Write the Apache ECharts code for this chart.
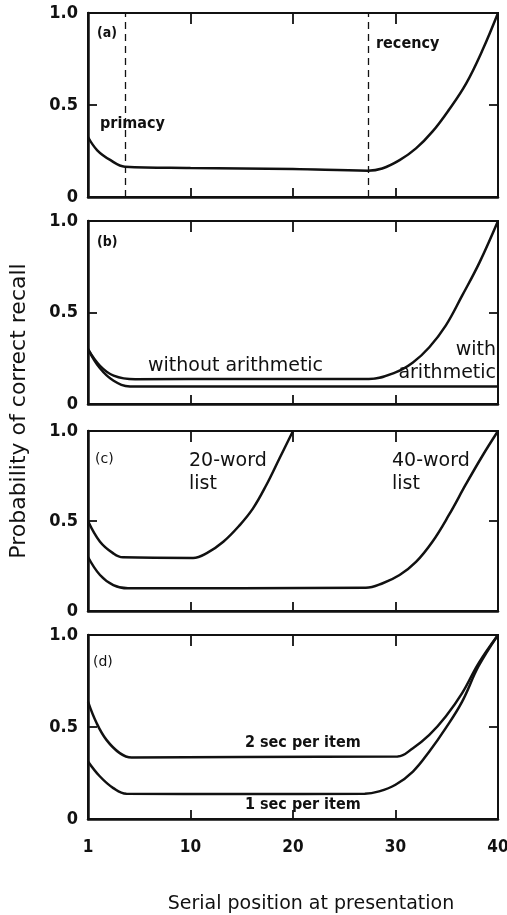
<!DOCTYPE html>
<html>
<head>
<meta charset="utf-8">
<script src="https://cdn.jsdelivr.net/npm/echarts@6/dist/echarts.min.js"></script>
<style>
html,body{margin:0;padding:0;background:#fff;}
#chart{width:507px;height:915px;}
</style>
</head>
<body>
<div id="chart"></div>
<script>
// ---- tick labels ----
var xTickLabels = ['1', '10', '20', '30', '40'];
var yTickLabels = ['0', '0.5', '1.0'];

// ---- panel (a): serial position curve ----
var aX = [0, 0.9, 2.2, 3.6, 10, 20, 27.3, 28.7, 30.4, 32.0, 33.6, 35.2, 36.9, 38.5, 40];
var aY = [0.326, 0.254, 0.20, 0.165, 0.158, 0.152, 0.143, 0.155, 0.20, 0.264, 0.355, 0.473, 0.618, 0.80, 1.0];
var aDashX = [3.6, 27.3];

// ---- panel (b): without / with arithmetic ----
var bWithoutX = [0, 1.17, 2.5, 4.6, 15, 27.4, 30.0, 31.7, 33.3, 34.9, 36.5, 38.2, 40];
var bWithoutY = [0.30, 0.209, 0.155, 0.135, 0.137, 0.137, 0.173, 0.227, 0.31, 0.428, 0.592, 0.774, 1.0];
var bWithX = [0, 1.17, 2.5, 4.1, 20, 40];
var bWithY = [0.30, 0.195, 0.127, 0.096, 0.096, 0.096];

// ---- panel (c): 20-word / 40-word list ----
var c20X = [0, 1.17, 2.47, 3.4, 10.25, 11.55, 13.2, 14.8, 16.1, 17.4, 18.7, 20];
var c20Y = [0.50, 0.385, 0.32, 0.298, 0.295, 0.32, 0.385, 0.477, 0.57, 0.70, 0.85, 1.0];
var c40X = [0, 1.17, 2.47, 3.9, 15, 27.1, 28.7, 30.4, 32.0, 33.6, 35.2, 36.9, 38.5, 40];
var c40Y = [0.30, 0.20, 0.144, 0.126, 0.127, 0.129, 0.153, 0.20, 0.273, 0.385, 0.532, 0.707, 0.864, 1.0];

// ---- panel (d): 2 sec / 1 sec per item ----
var d2X = [0, 0.85, 1.8, 3.1, 4.25, 15, 30.2, 31.7, 33.3, 34.9, 36.5, 38.1, 40];
var d2Y = [0.638, 0.52, 0.43, 0.358, 0.334, 0.337, 0.34, 0.385, 0.457, 0.557, 0.684, 0.846, 1.0];
var d1X = [0, 1.17, 2.47, 3.75, 15, 27, 28.4, 30.0, 31.7, 33.3, 34.9, 36.5, 38.1, 40];
var d1Y = [0.313, 0.231, 0.168, 0.137, 0.136, 0.137, 0.15, 0.186, 0.258, 0.367, 0.494, 0.638, 0.83, 1.0];

function zip(xs, ys) { return xs.map(function (x, i) { return [x, ys[i]]; }); }

var INK = '#111';
var tickFont = 'DejaVu Sans Condensed, DejaVu Sans, sans-serif';
var humanFont = 'DejaVu Sans, sans-serif';

var gridDefs = [
  { top: 13, height: 184 },
  { top: 221, height: 183 },
  { top: 431, height: 180 },
  { top: 635, height: 184 }
];

var grids = [], xAxes = [], yAxes = [];
gridDefs.forEach(function (g, i) {
  grids.push({ left: 88, right: 9, top: g.top, height: g.height, show: true,
    borderColor: INK, borderWidth: 2, backgroundColor: 'transparent',
    containLabel: false, outerBoundsMode: 'none' });
  var last = (i === gridDefs.length - 1);
  xAxes.push({
    type: 'value', gridIndex: i, min: 0, max: 40, interval: 10, position: 'bottom',
    axisLine: { show: true, onZero: false, lineStyle: { color: INK, width: 2.5 } },
    axisTick: { show: true, inside: true, length: 9, lineStyle: { color: INK, width: 1.8 } },
    splitLine: { show: false },
    axisLabel: { show: last, margin: 20, color: INK, fontFamily: tickFont, fontWeight: 'bold', fontSize: 17,
      showMinLabel: true, showMaxLabel: true,
      formatter: function (v) { return xTickLabels[Math.round(v / 10)]; } }
  });
  xAxes.push({
    type: 'value', gridIndex: i, min: 0, max: 40, interval: 10, position: 'top',
    axisLine: { show: false, onZero: false },
    axisTick: { show: true, inside: true, length: 11, lineStyle: { color: INK, width: 1.8 } },
    splitLine: { show: false }, axisLabel: { show: false }
  });
  yAxes.push({
    type: 'value', gridIndex: i, min: 0, max: 1, interval: 0.5, position: 'left',
    axisLine: { show: true, onZero: false, lineStyle: { color: INK, width: 2.5 } },
    axisTick: { show: true, inside: true, length: 9, lineStyle: { color: INK, width: 1.8 } },
    splitLine: { show: false },
    axisLabel: { show: true, margin: 10, color: INK, fontFamily: tickFont, fontWeight: 'bold', fontSize: 18,
      showMinLabel: true, showMaxLabel: true,
      formatter: function (v) { return yTickLabels[Math.round(v / 0.5)]; } }
  });
  yAxes.push({
    type: 'value', gridIndex: i, min: 0, max: 1, interval: 0.5, position: 'right',
    axisLine: { show: false, onZero: false },
    axisTick: { show: true, inside: true, length: 9, lineStyle: { color: INK, width: 1.8 } },
    splitLine: { show: false }, axisLabel: { show: false }
  });
});

function curve(name, xs, ys, panel, extra) {
  var s = {
    name: name, type: 'line', xAxisIndex: panel * 2, yAxisIndex: panel * 2,
    data: zip(xs, ys), showSymbol: false, symbol: 'none', smooth: 0.4,
    lineStyle: { color: INK, width: 2.5 }, silent: true, z: 5
  };
  if (extra) for (var k in extra) s[k] = extra[k];
  return s;
}

var series = [
  curve('serial position', aX, aY, 0, {
    markLine: {
      silent: true, symbol: ['none', 'none'], label: { show: false },
      lineStyle: { color: INK, type: [7, 5], width: 1.3 },
      data: aDashX.map(function (x) { return { xAxis: x }; })
    }
  }),
  curve('without arithmetic', bWithoutX, bWithoutY, 1),
  curve('with arithmetic', bWithX, bWithY, 1),
  curve('20-word list', c20X, c20Y, 2),
  curve('40-word list', c40X, c40Y, 2),
  curve('2 sec per item', d2X, d2Y, 3),
  curve('1 sec per item', d1X, d1Y, 3)
];

function txt(x, y, text, opts) {
  opts = opts || {};
  return {
    type: 'text', x: x, y: y, rotation: opts.rotation || 0, silent: true, z: 10,
    style: {
      text: text, fill: INK,
      font: (opts.weight || 'normal') + ' ' + (opts.size || 16) + 'px ' + (opts.family || humanFont),
      textAlign: opts.align || 'left', textVerticalAlign: 'middle'
    }
  };
}

var graphics = [
  txt(97, 33, '(a)', { family: tickFont, weight: 'bold', size: 14 }),
  txt(100, 124, 'primacy', { family: tickFont, weight: 'bold', size: 16 }),
  txt(376, 44, 'recency', { family: tickFont, weight: 'bold', size: 16 }),
  txt(97, 242, '(b)', { family: tickFont, weight: 'bold', size: 14 }),
  txt(148, 366, 'without arithmetic', { size: 19 }),
  txt(496, 350, 'with', { size: 19, align: 'right' }),
  txt(496, 373, 'arithmetic', { size: 19, align: 'right' }),
  txt(95, 459, '(c)', { size: 14 }),
  txt(189, 461, '20-word', { size: 19 }),
  txt(189, 484, 'list', { size: 19 }),
  txt(392, 461, '40-word', { size: 19 }),
  txt(392, 484, 'list', { size: 19 }),
  txt(93, 662, '(d)', { size: 14 }),
  txt(245, 743, '2 sec per item', { family: tickFont, weight: 'bold', size: 16 }),
  txt(245, 805, '1 sec per item', { family: tickFont, weight: 'bold', size: 16 }),
  txt(311, 904, 'Serial position at presentation', { size: 19, align: 'center' }),
  txt(19, 411, 'Probability of correct recall', { size: 22, align: 'center', rotation: Math.PI / 2 })
];

var chart = echarts.init(document.getElementById('chart'), null, { renderer: 'canvas' });
chart.setOption({
  backgroundColor: '#ffffff',
  animation: false,
  grid: grids,
  xAxis: xAxes,
  yAxis: yAxes,
  series: series,
  graphic: graphics
});
</script>
</body>
</html>
